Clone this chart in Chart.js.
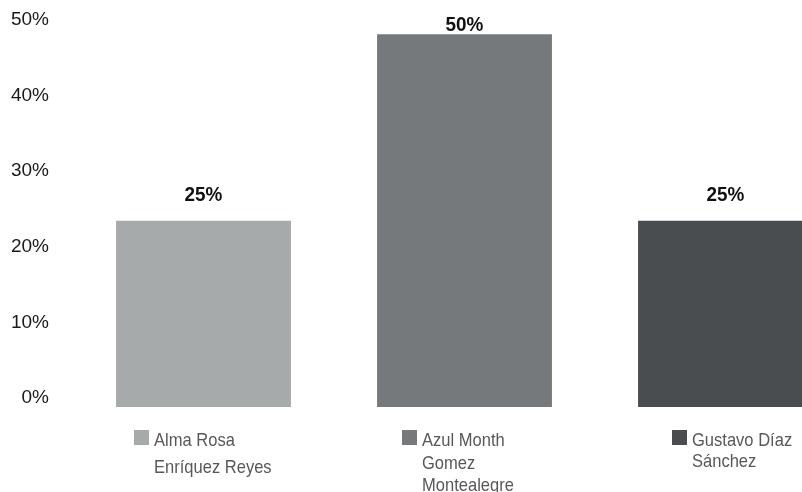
<!DOCTYPE html>
<html>
<head>
<meta charset="utf-8">
<script src="https://cdn.jsdelivr.net/npm/chart.js@4.4.1/dist/chart.umd.min.js"></script>
<style>
  html, body { margin: 0; padding: 0; overflow: hidden; background: #ffffff; }
  #wrap { width: 860px; height: 492px; }
</style>
</head>
<body>
<div id="wrap"><canvas id="c" width="860" height="492"></canvas></div>
<script>
// ---- data ----
const categories = ['Alma Rosa Enríquez Reyes', 'Azul Month Gomez Montealegre', 'Gustavo Díaz Sánchez'];
const legendLines = [['Alma Rosa', 'Enríquez Reyes'], ['Azul Month', 'Gomez', 'Montealegre'], ['Gustavo Díaz', 'Sánchez']];
const values = [25, 50, 25];
const valueLabels = ['25%', '50%', '25%'];
const colors = ['#a7aaab', '#76797c', '#4a4d4f'];
const tickValues = [0, 10, 20, 30, 40, 50];

const FONT = '"Liberation Sans", Arial, Helvetica, sans-serif';

function drawScaledText(ctx, text, x, y, sx) {
  ctx.save();
  ctx.translate(x, y);
  ctx.scale(sx, 1);
  ctx.fillText(text, 0, 0);
  ctx.restore();
}

const valueLabelPlugin = {
  id: 'valueLabels',
  afterDatasetsDraw(chart) {
    const ctx = chart.ctx;
    const meta = chart.getDatasetMeta(0);
    ctx.save();
    ctx.font = 'bold 21px ' + FONT;
    ctx.fillStyle = '#111111';
    ctx.textAlign = 'center';
    ctx.textBaseline = 'middle';
    meta.data.forEach((bar, i) => {
      const y = Math.max(bar.y - 25, 25);
      drawScaledText(ctx, valueLabels[i], bar.x, y, 0.9);
    });
    ctx.restore();
  }
};

const legendDx = [-69.5, -62.5, -53.5];
const legendLineHeight = [27, 22.5, 21];
const legendPlugin = {
  id: 'customLegend',
  afterDraw(chart) {
    const ctx = chart.ctx;
    const xs = chart.scales.x;
    ctx.save();
    ctx.textAlign = 'left';
    ctx.textBaseline = 'alphabetic';
    ctx.font = '19px ' + FONT;
    categories.forEach((c, i) => {
      const cx = xs.getPixelForValue(i);
      const sqX = cx + legendDx[i];
      const top = chart.chartArea.bottom + 23;
      ctx.fillStyle = colors[i];
      ctx.fillRect(sqX, top, 15, 15);
      ctx.fillStyle = '#585858';
      legendLines[i].forEach((line, j) => {
        drawScaledText(ctx, line, sqX + 20, top + 16 + j * legendLineHeight[i], 0.87);
      });
    });
    ctx.restore();
  }
};

new Chart(document.getElementById('c'), {
  type: 'bar',
  data: {
    labels: categories,
    datasets: [{
      data: values,
      backgroundColor: colors,
      borderWidth: 0,
      yAxisID: 'yBar',
      categoryPercentage: 1,
      barPercentage: 0.67
    }]
  },
  options: {
    responsive: false,
    animation: false,
    layout: { padding: { left: 0, right: 4, top: 0, bottom: 85 } },
    plugins: { legend: { display: false }, tooltip: { enabled: false } },
    scales: {
      x: { display: false },
      yBar: { position: 'left', display: false, min: 0, max: 54.6 },
      y: {
        position: 'left',
        min: -1.19,
        max: 52.65,
        grid: { display: false, drawTicks: false },
        border: { display: false },
        ticks: {
          padding: 24,
          color: '#1a1a1a',
          font: { size: 19, family: FONT },
          callback: v => v + '%'
        },
        afterBuildTicks: s => { s.ticks = tickValues.map(v => ({ value: v })); },
        afterFit: s => { s.width = 73; s.paddingTop = 0; s.paddingBottom = 0; }
      }
    }
  },
  plugins: [valueLabelPlugin, legendPlugin]
});
</script>
</body>
</html>
